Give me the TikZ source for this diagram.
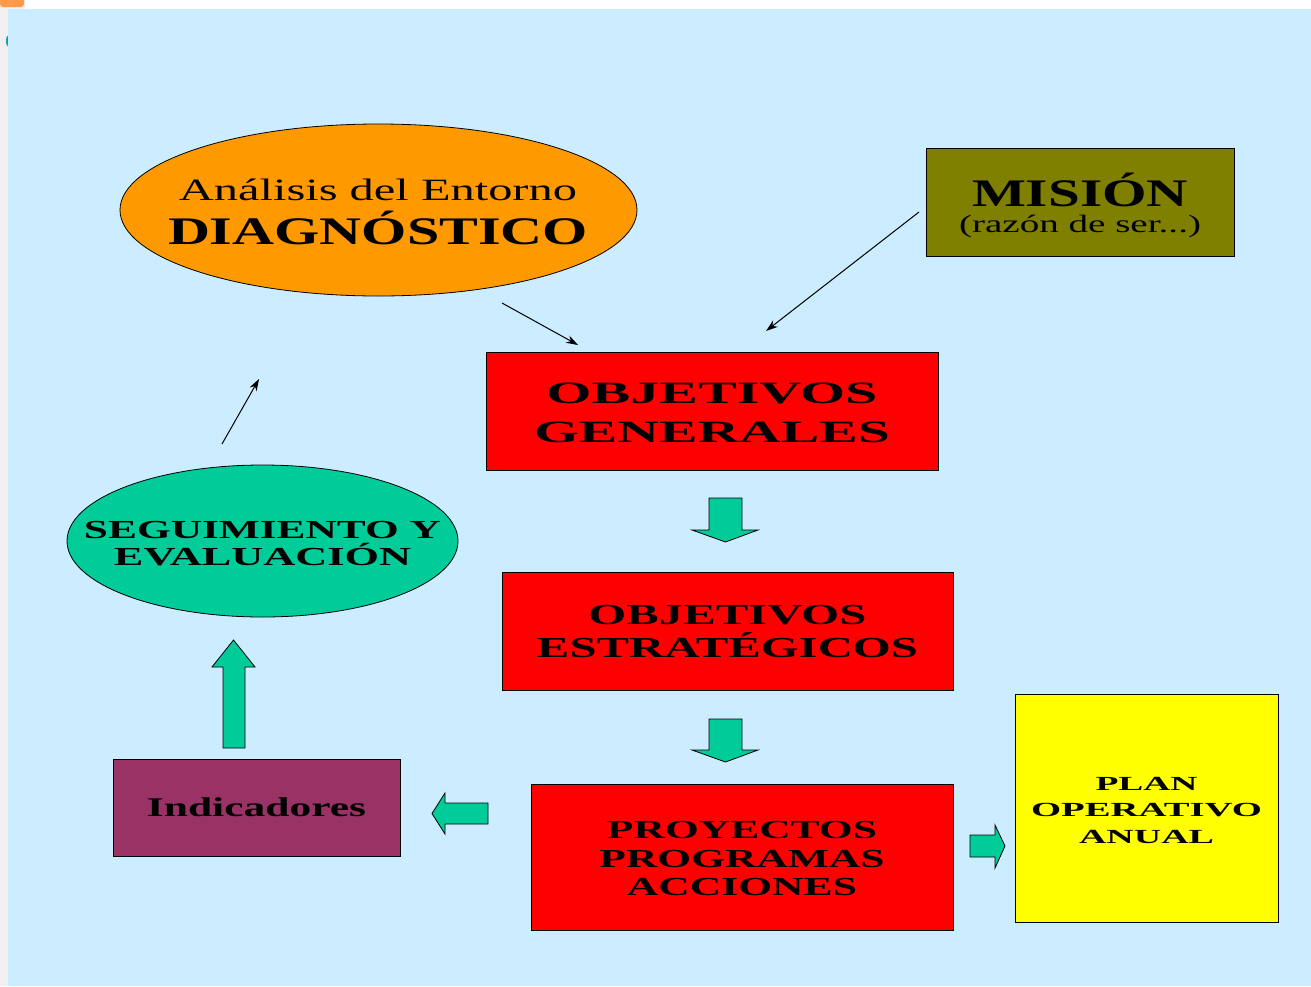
\documentclass[tikz,border=0pt]{standalone}
\usepackage{fontspec}
\setmainfont{Liberation Serif}
\usepackage{graphicx}
\usetikzlibrary{arrows.meta,shapes.geometric}
\definecolor{bgblue}{HTML}{CCECFF}
\definecolor{pagegray}{HTML}{F0F0F0}
\definecolor{diagorange}{HTML}{FF9900}
\definecolor{cornerorange}{HTML}{FF9A4A}
\definecolor{misolive}{HTML}{808000}
\definecolor{objred}{HTML}{FF0000}
\definecolor{segteal}{HTML}{00CC99}
\definecolor{darkteal}{HTML}{1A9E9E}
\definecolor{indpurple}{HTML}{993366}
\definecolor{planyellow}{HTML}{FFFF00}
\newcommand\fitline[2]{\resizebox{#1}{\height}{#2}}
\begin{document}
\begin{tikzpicture}[x=1pt,y=-1pt,
  box/.style={draw=black, line width=0.8pt, inner sep=0pt, align=center, text=black},
  ell/.style={ellipse, draw=black, line width=0.8pt, inner sep=0pt},
  txt/.style={inner sep=0pt, align=center, text=black},
  blockarrow/.style={fill=segteal, draw=black, line width=0.8pt, line join=miter},
  thinarrow/.style={draw=black, line width=1pt, -{Stealth[length=12pt,width=8pt]}}]
\useasboundingbox (0,0) rectangle (1311,986);
% page background
\fill[pagegray] (0,0) rectangle (1311,986);
\fill[white] (25,0) rectangle (1311,9);
\fill[cornerorange, rounded corners=3pt] (0,-4) rectangle (24,7);
\fill[darkteal] (9,41) ellipse [x radius=3, y radius=6];
\fill[bgblue] (8,9) rectangle (1311,986);

% Diagnostico ellipse
\node[ell, fill=diagorange, minimum width=517pt, minimum height=172pt] (diag) at (378.5,210) {};
\node[txt, font=\fontsize{31}{44}\selectfont] (diagT) at (378,211.5)
  {\fitline{398pt}{Análisis del Entorno}\\
   \fitline{420pt}{\fontsize{39}{44}\selectfont\bfseries DIAGNÓSTICO}};

% Mision
\node[box, fill=misolive, minimum width=308pt, minimum height=108pt] (mision) at (1080,202) {};
\node[txt, font=\fontsize{39}{26}\selectfont] (misionT) at (1080,205)
  {\fitline{216pt}{\bfseries MISIÓN}\\
   \fitline{242pt}{\fontsize{25}{26}\selectfont (razón de ser...)}};

% Objetivos generales
\node[box, fill=objred, minimum width=452pt, minimum height=118pt] (ogen) at (712,411) {};
\node[txt, font=\fontsize{31}{39}\selectfont\bfseries] (ogenT) at (712,413)
  {\fitline{331pt}{OBJETIVOS}\\ \fitline{356pt}{GENERALES}};

% Objetivos estrategicos
\node[box, fill=objred, minimum width=451pt, minimum height=118pt] (oest) at (727.5,631) {};
\node[txt, font=\fontsize{29}{33}\selectfont\bfseries] (oestT) at (727.5,632)
  {\fitline{278pt}{OBJETIVOS}\\ \fitline{381pt}{ESTRATÉGICOS}};

% Proyectos
\node[box, fill=objred, minimum width=422pt, minimum height=146pt] (proy) at (742,857) {};
\node[txt, font=\fontsize{26}{28.5}\selectfont\bfseries] (proyT) at (742,859)
  {\fitline{270pt}{PROYECTOS}\\ \fitline{285pt}{PROGRAMAS}\\ \fitline{230pt}{ACCIONES}};

% Indicadores
\node[box, fill=indpurple, minimum width=287pt, minimum height=97pt,
      font=\fontsize{27}{30}\selectfont\bfseries] (ind) at (256.5,807.5)
  {\fitline{219pt}{Indicadores}};

% Plan operativo anual
\node[box, fill=planyellow, minimum width=263pt, minimum height=228pt] (plan) at (1146.5,808) {};
\node[txt, font=\fontsize{20}{26.5}\selectfont\bfseries] (planT) at (1146.5,810)
  {\fitline{102pt}{PLAN}\\ \fitline{231pt}{OPERATIVO}\\ \fitline{135pt}{ANUAL}};

% Seguimiento ellipse
\node[ell, fill=segteal, minimum width=391pt, minimum height=152pt] (seg) at (262.5,541) {};
\node[txt, font=\fontsize{26}{27}\selectfont\bfseries] (segT) at (262.5,544)
  {\fitline{357pt}{SEGUIMIENTO Y}\\ \fitline{297pt}{EVALUACIÓN}};

% block arrows
\draw[blockarrow] (709,498) -- (742,498) -- (742,530) -- (758,530) -- (725.5,542) -- (692,530) -- (709,530) -- cycle;
\draw[blockarrow] (709,719) -- (742,719) -- (742,750) -- (758,750) -- (725.5,762) -- (692,750) -- (709,750) -- cycle;
\draw[blockarrow] (488,803) -- (445,803) -- (445,793) -- (432,813.5) -- (445,834) -- (445,824) -- (488,824) -- cycle;
\draw[blockarrow] (970,835) -- (995,835) -- (995,825) -- (1005,846) -- (995,868) -- (995,857) -- (970,857) -- cycle;
\draw[blockarrow] (223,748) -- (223,667) -- (212,667) -- (233.5,640) -- (255,667) -- (245,667) -- (245,748) -- cycle;

% thin arrows
\coordinate (a1s) at (502,303);
\coordinate (a1e) at (578,345);
\coordinate (a2s) at (919,212);
\coordinate (a2e) at (766,331);
\coordinate (a3s) at (222,444);
\coordinate (a3e) at (259,379);
\draw[thinarrow] (a1s) -- (a1e);
\draw[thinarrow] (a2s) -- (a2e);
\draw[thinarrow] (a3s) -- (a3e);
\end{tikzpicture}
\end{document}
